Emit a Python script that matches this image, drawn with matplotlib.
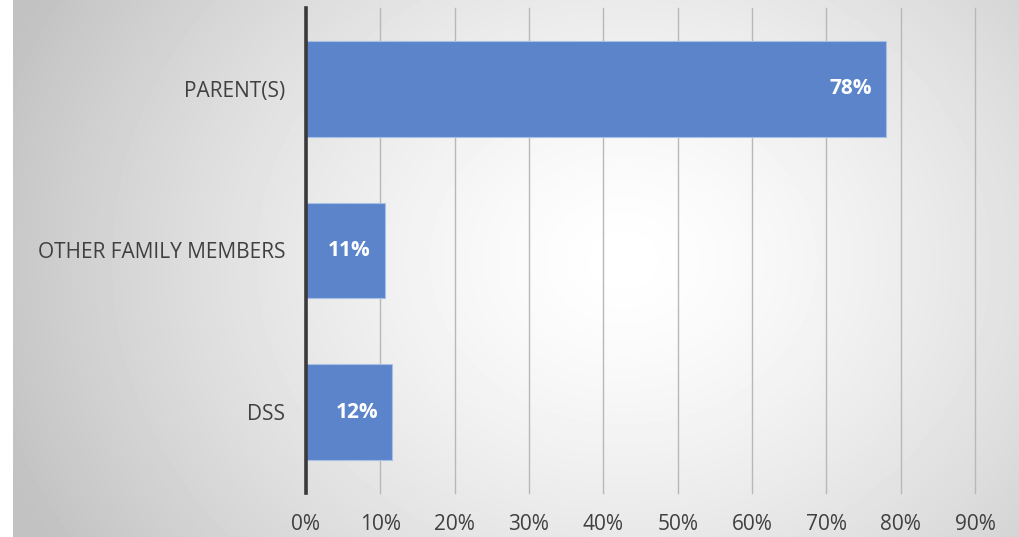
import numpy as np
import matplotlib
matplotlib.use("Agg")
from matplotlib import pyplot as plt

categories = ["PARENT(S)", "OTHER FAMILY MEMBERS", "DSS"]
shares = [78.0, 10.6, 11.6]          # percent
xticks = list(range(0, 100, 10))

W, H, DPI = 1020, 537, 100
bar_color = "#5b84cb"
text_color = "#404040"

plt.rcParams['font.family'] = ['Open Sans', 'DejaVu Sans']

fig = plt.figure(figsize=(W / DPI, H / DPI), dpi=DPI)
fig.patch.set_facecolor("white")

# radial grey-to-white backdrop behind the plot
bg = fig.add_axes([13 / W, 0, 1 - 13 / W, 1])
yy, xx = np.mgrid[0:H, 0:W - 13]
cx, cy = 610, 260
r = np.sqrt(((xx - cx) / 660.0) ** 2 + ((yy - cy) / 560.0) ** 2)
shade = np.clip(1.0 - 0.24 * r ** 1.4, 0.76, 1.0)
bg.imshow(shade, cmap="gray", vmin=0, vmax=1, aspect="auto",
          interpolation="bilinear")
bg.set_axis_off()

ax = fig.add_axes([306 / W, 1 - 493 / H, (975 - 306) / W, (493 - 8) / H])
ax.patch.set_alpha(0)

y = np.arange(len(categories))
ax.barh(y, shares, height=0.593, color=bar_color, edgecolor="#a8bfe6",
        linewidth=0.8, zorder=3)

ax.set_xlim(0, 90)
ax.set_ylim(2.5, -0.5)
ax.set_xticks(xticks)
ax.set_xticklabels([f"{t}%" for t in xticks], fontsize=15, color=text_color)
ax.set_yticks(y)
ax.set_yticklabels(categories, fontsize=15, color=text_color)
ax.tick_params(axis="x", length=0, pad=15)
ax.tick_params(axis="y", length=0, pad=15)
ax.grid(axis="x", color="#b8b8b8", linewidth=1.0, zorder=1)
for gl in ax.xaxis.get_gridlines():
    gl.set_clip_on(False)

for s in ("top", "right", "bottom"):
    ax.spines[s].set_visible(False)
ax.spines["left"].set_color("#3a3a3a")
ax.spines["left"].set_linewidth(2.6)
ax.spines["left"].set_zorder(4)

for yi, v in zip(y, shares):
    ax.annotate(f"{v:.0f}%", xy=(v, yi), xytext=(-14, 0),
                textcoords="offset pixels",
                ha="right", va="center", color="white",
                fontsize=15, fontweight="bold", zorder=5)

fig.savefig("out.png", dpi=DPI)
